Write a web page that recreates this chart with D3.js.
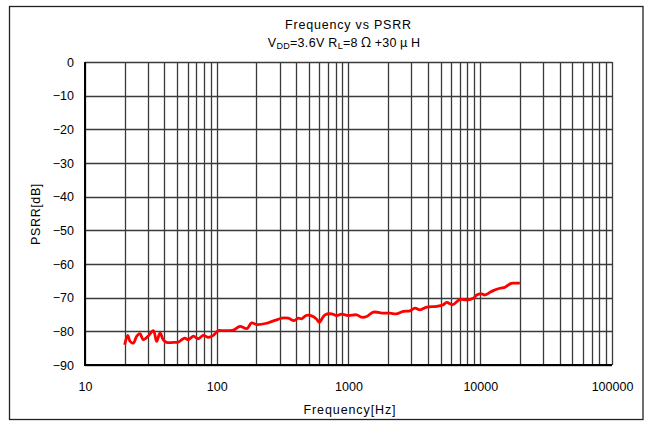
<!DOCTYPE html>
<html><head><meta charset="utf-8">
<script src="https://cdn.jsdelivr.net/npm/d3@7"></script>
<style>body{margin:0;background:#fff}svg{display:block}text{font-family:"Liberation Sans","Noto Sans",sans-serif;fill:#000}</style>
</head><body><svg id="c" width="651" height="422"></svg>
<script>
const freqHz = [20,21.1,22,23.3,24.7,26.1,27.7,30.2,33,35,37.1,39.3,41.7,46.8,51,54.2,57.4,60.8,66.4,72.4,79.1,86.3,94.2,103,112,134,150,169,184,201,239,260,285,311,349,386,416,441,476,526,574,600,663,745,813,887,997,1153,1259,1374,1542,1837,2064,2321,2607,2930,3198,3490,3923,4670,5244,5560,6180,7020,7890,8850,9400,10260,10870,11860,12560,14130,15420,16830,17830,20000];
const psrrDb = [-84,-81.2,-83,-83.5,-81.4,-80.7,-82.5,-81.4,-79.8,-83,-80.5,-82.5,-83.3,-83.3,-83.2,-82.5,-82,-82.5,-81.4,-82.2,-81.2,-81.8,-81.2,-79.8,-79.8,-79.6,-78.5,-79.2,-77.5,-78,-77.6,-77.1,-76.6,-76.1,-76.1,-76.8,-76.1,-76.3,-75.3,-75.4,-76.4,-77.3,-75.1,-74.8,-75.3,-74.9,-75.3,-75.1,-75.8,-75.6,-74.3,-74.6,-74.6,-74.8,-74.1,-73.9,-73.1,-73.6,-72.8,-72.6,-72.1,-71.4,-72.1,-70.5,-70.7,-70.2,-69.2,-68.9,-69.2,-68.4,-67.9,-67.2,-66.9,-65.9,-65.7,-65.7];
const xTicks = [10,100,1000,10000,100000];
const yTicks = [0,-10,-20,-30,-40,-50,-60,-70,-80,-90];
const title = "Frequency vs PSRR";
const xLabel = "Frequency[Hz]";
const yLabel = "PSRR[dB]";

const svg = d3.select("#c");
const L=85,R=612,T=62,B=365;
const x = d3.scaleLog().domain([10,100000]).range([L,R]);
const y = d3.scaleLinear().domain([-90,0]).range([B,T]);

svg.append("rect").attr("x",9.5).attr("y",6.5).attr("width",633.5).attr("height",413).attr("fill","none").attr("stroke","#222").attr("stroke-width",1.3);

const minor=[];
for(let d=10;d<100000;d*=10) for(let k=1;k<10;k++) minor.push(d*k);
minor.push(100000);
const g=svg.append("g");
g.selectAll(".vg").data(minor).join("line")
 .attr("x1",d=>Math.round(x(d))+0.5).attr("x2",d=>Math.round(x(d))+0.5).attr("y1",T).attr("y2",B)
 .attr("stroke","#3a3a3a").attr("stroke-width",1.3);
g.selectAll(".hg").data(yTicks).join("line")
 .attr("x1",L).attr("x2",R).attr("y1",d=>Math.round(y(d))+0.5).attr("y2",d=>Math.round(y(d))+0.5)
 .attr("stroke","#3a3a3a").attr("stroke-width",1.3);
const xa=svg.append("g").attr("transform",`translate(0,${B})`).call(d3.axisBottom(x).tickValues(xTicks).tickFormat(d3.format("d")).tickSize(0).tickPadding(17));
const ya=svg.append("g").attr("transform",`translate(${L},0)`).call(d3.axisLeft(y).tickValues(yTicks).tickFormat(d=>d===0?"0":"\u2212"+Math.abs(d)).tickSize(0).tickPadding(11));
[xa,ya].forEach(a=>{a.select(".domain").remove();a.selectAll("text").attr("font-size",12.5).attr("font-family","Liberation Sans, sans-serif");});
svg.append("line").attr("x1",L).attr("x2",L).attr("y1",T).attr("y2",B+1).attr("stroke","#000").attr("stroke-width",2);
svg.append("line").attr("x1",L-1).attr("x2",R).attr("y1",B).attr("y2",B).attr("stroke","#000").attr("stroke-width",2);

const line=d3.line().x((d,i)=>x(freqHz[i])).y(d=>y(d)).curve(d3.curveCatmullRom.alpha(0.5));
svg.append("path").attr("d",line(psrrDb)).attr("fill","none").attr("stroke","#ff0000").attr("stroke-width",2.8).attr("stroke-linejoin","round");

svg.append("text").attr("x",348.5).attr("y",29).attr("text-anchor","middle").attr("font-size",12.5).attr("letter-spacing",0.8).text(title);
const t2=svg.append("text").attr("x",344).attr("y",47).attr("text-anchor","middle").attr("font-size",12.5).attr("letter-spacing",0.3);
t2.append("tspan").text("V");
t2.append("tspan").attr("font-size",9).attr("dy",2).text("DD");
t2.append("tspan").attr("dy",-2).text("=3.6V R");
t2.append("tspan").attr("font-size",9).attr("dy",2).text("L");
t2.append("tspan").attr("dy",-2).text("=8");
t2.append("tspan").attr("dx",2).attr("font-family","Noto Sans CJK JP").text("\u2126");
t2.append("tspan").attr("dx",2).text("+30");
t2.append("tspan").attr("dx",3).attr("font-family","Noto Sans CJK JP").text("\u03BC");
t2.append("tspan").attr("dx",3).text("H");
svg.append("text").attr("x",350).attr("y",414).attr("text-anchor","middle").attr("font-size",12.5).attr("letter-spacing",0.9).text(xLabel);
svg.append("text").attr("transform","translate(40,214) rotate(-90)").attr("text-anchor","middle").attr("font-size",12.5).attr("letter-spacing",0.6).text(yLabel);
</script></body></html>
